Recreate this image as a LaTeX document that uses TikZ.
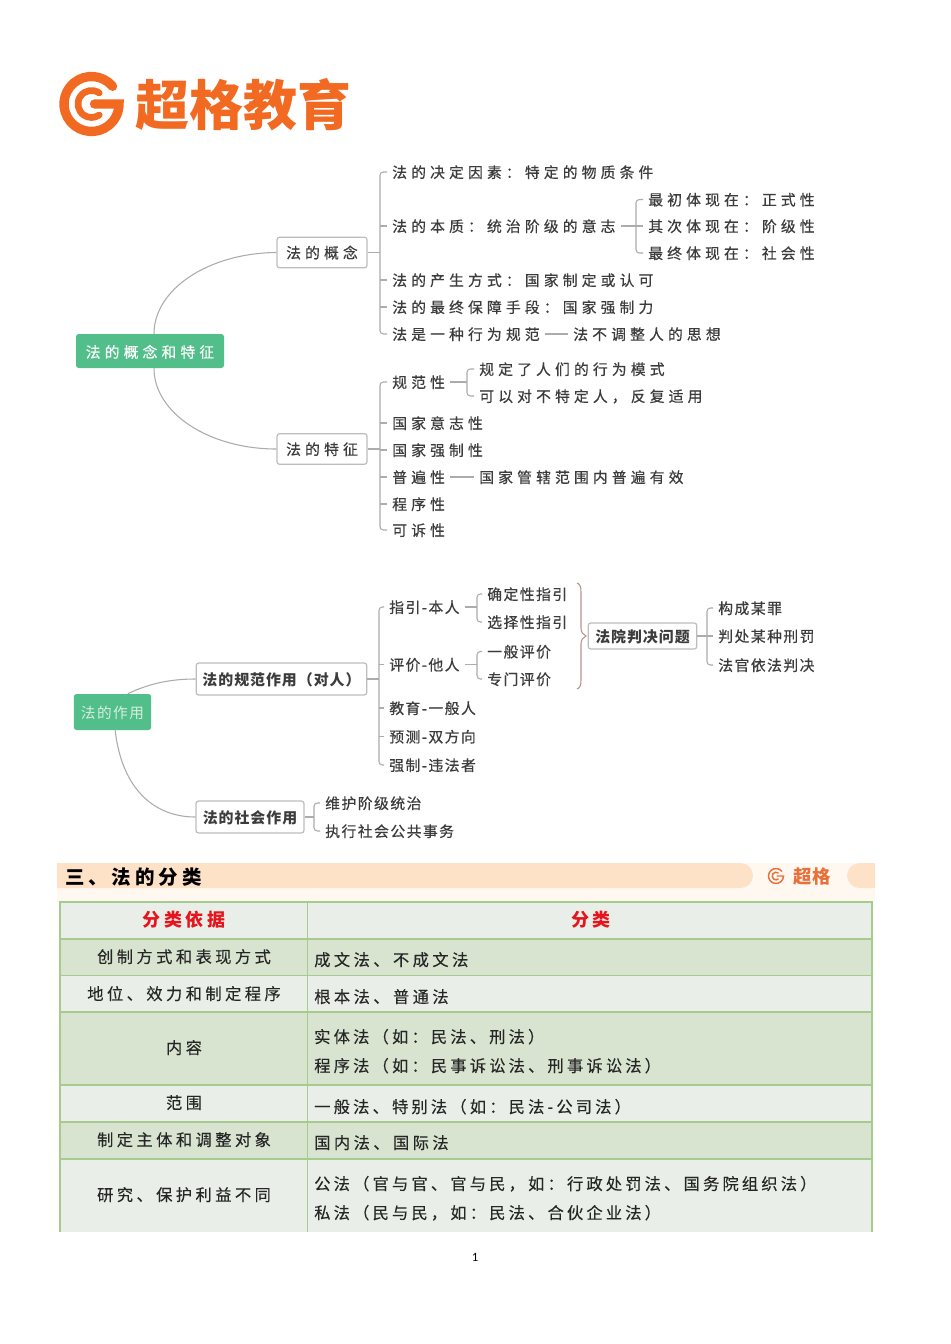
\documentclass[tikz,border=0pt]{standalone}
\usepackage{fontspec}
\setmainfont{Carlito}
\newfontfamily\fTreeA[LetterSpace=28,FakeBold=0.5]{Noto Sans CJK SC}
\newfontfamily\fTreeB[LetterSpace=10,FakeBold=0.5]{Noto Sans CJK SC}
\newfontfamily\fBox[LetterSpace=6.5]{Noto Sans CJK SC}
\newfontfamily\fRoot[LetterSpace=10]{Noto Sans CJK SC}
\newfontfamily\fTab[LetterSpace=21,FakeBold=0.25]{Noto Sans CJK SC}
\newfontfamily\fTabLong[LetterSpace=19.5,FakeBold=0.25]{Noto Sans CJK SC}
\newfontfamily\fHead[LetterSpace=20]{Noto Sans CJK SC}
\newfontfamily\fPlain{Noto Sans CJK SC}
\newcommand\fwc{\char"FF1A\relax}
\newcommand\fwd{\char"FF0C\relax}
\newcommand\fwl{\char"FF08\relax}
\newcommand\fwr{\char"FF09\relax}
\definecolor{treetxt}{HTML}{3C3C3C}
\definecolor{tabtxt}{HTML}{262626}
\definecolor{linegray}{HTML}{ACACAC}
\definecolor{boxline}{HTML}{BDBDBD}
\definecolor{rootgreen}{HTML}{52BE8A}
\definecolor{orange}{HTML}{F26A21}
\definecolor{peach}{HTML}{FDE2C8}
\definecolor{lightpeach}{HTML}{FFF8F1}
\definecolor{rowA}{HTML}{E9EFE8}
\definecolor{rowB}{HTML}{D8E4D0}
\definecolor{tabline}{HTML}{A6CC8D}
\definecolor{bracecol}{HTML}{B9918F}
\tikzset{
  x=0.75pt,y=-0.75pt,
  ta/.style={anchor=west,inner xsep=3.75pt,inner ysep=0pt,text height=.94em,text depth=.06em,text=treetxt,font=\fontsize{11.1pt}{13pt}\selectfont\fTreeA},
  tb/.style={anchor=west,inner xsep=3.75pt,inner ysep=0pt,text height=.94em,text depth=.06em,text=treetxt,font=\fontsize{11.1pt}{13pt}\selectfont\fTreeB},
  concept/.style={draw=boxline,line width=0.9pt,fill=white,rounded corners=2pt,inner sep=0pt,minimum height=23pt,minimum width=67.5pt,text height=.94em,text depth=.06em,text=treetxt,font=\fontsize{11.1pt}{13pt}\selectfont\fTreeA},
  boldbox/.style={draw=boxline,line width=0.9pt,fill=white,rounded corners=2pt,inner sep=0pt,minimum height=24pt,text height=1em,text depth=0em,text=treetxt,font=\fontsize{11.2pt}{13pt}\selectfont\fBox\bfseries},
  rootbox/.style={fill=rootgreen,rounded corners=2pt,inner sep=0pt,text height=1em,text depth=0em},
  conn/.style={draw=linegray,line width=0.8pt},
  brk/.style={draw=linegray,line width=0.8pt,rounded corners=2.5pt},
  cell/.style={inner sep=0pt,text height=.94em,text depth=.06em,text=tabtxt,font=\fontsize{12.2pt}{14pt}\selectfont\fTab},
  cellL/.style={cell,anchor=west},
  cellLong/.style={cell,anchor=west,font=\fontsize{12.2pt}{14pt}\selectfont\fTabLong},
  headcell/.style={inner sep=0pt,text height=1em,text depth=0em,text={rgb,255:red,230;green,20;blue,28},font=\fontsize{13.5pt}{15pt}\selectfont\fHead\bfseries},
}
\begin{document}
\begin{tikzpicture}
\useasboundingbox (0,0) rectangle (950,1344);
\fill[white] (0,0) rectangle (950,1344);

% ---------- logo
\begin{scope}[shift={(91.5,104)},x=0.75pt,y=0.75pt,draw=orange,line cap=round]
  \draw[line width=7pt] (40:27.5) arc (40:360:27.5) -- (3,0);
  \draw[line width=5pt] (55:13.5) arc (55:305:13.5);
\end{scope}
\node[anchor=center,inner sep=0pt,text=orange,font=\fontsize{40.5pt}{44pt}\selectfont\fPlain\bfseries] (logotext) at (243,105) {超格教育};

% ---------- tree 1
\node[concept] (c1) at (322,252.5) {法的概念};
\node[concept] (c2) at (322,449) {法的特征};
\node[rootbox,minimum width=111pt,minimum height=25.5pt,text=white,font=\fontsize{11.1pt}{13pt}\selectfont\fTreeA] (r1) at (150,351) {法的概念和特征};

\draw[conn] ([xshift=3pt]r1.north) .. controls (154,289) and (209,253) .. (c1.west);
\draw[conn] ([xshift=3pt]r1.south) .. controls (154,413) and (209,449) .. (c2.west);

\node[ta] (a1) at (387,172) {法的决定因素\fwc 特定的物质条件};
\node[ta] (a2) at (387,226) {法的本质\fwc 统治阶级的意志};
\node[ta] (a3) at (387,280) {法的产生方式\fwc 国家制定或认可};
\node[ta] (a4) at (387,307) {法的最终保障手段\fwc 国家强制力};
\node[ta] (a5) at (387,334) {法是一种行为规范};
\node[ta] (a5b) at (568,334) {法不调整人的思想};
\node[ta] (a21) at (643,199.5) {最初体现在\fwc 正式性};
\node[ta] (a22) at (643,226) {其次体现在\fwc 阶级性};
\node[ta] (a23) at (643,253) {最终体现在\fwc 社会性};
\coordinate (bus1) at (380,252.5);
\coordinate (bus2) at (636,226);
\draw[brk] (a1.west) -| (bus1) |- (a5.west);
\draw[conn] (c1.east) -- (bus1);
\draw[conn] (a2.west) -- (a2.west -| bus1);
\draw[conn] (a3.west) -- (a3.west -| bus1);
\draw[conn] (a4.west) -- (a4.west -| bus1);
\draw[conn] (a5.east) -- (a5b.west);
\draw[brk] (a21.west) -| (bus2) |- (a23.west);
\draw[conn] (a2.east) -- (a22.west);

\node[ta] (b1) at (387,382) {规范性};
\node[ta] (b2) at (387,423) {国家意志性};
\node[ta] (b3) at (387,450) {国家强制性};
\node[ta] (b4) at (387,477) {普遍性};
\node[ta] (b5) at (387,504) {程序性};
\node[ta] (b6) at (387,530) {可诉性};
\node[ta] (b11) at (474,369) {规定了人们的行为模式};
\node[ta] (b12) at (474,396) {可以对不特定人\fwd 反复适用};
\node[ta] (b41) at (474,477) {国家管辖范围内普遍有效};
\coordinate (bus3) at (380,449);
\coordinate (bus4) at (467,382);
\draw[brk] (b1.west) -| (bus3) |- (b6.west);
\draw[conn] (c2.east) -- (bus3);
\draw[conn] (b2.west) -- (b2.west -| bus3);
\draw[conn] (b3.west) -- (b3.west -| bus3);
\draw[conn] (b4.west) -- (b4.west -| bus3);
\draw[conn] (b5.west) -- (b5.west -| bus3);
\draw[brk] (b11.west) -| (bus4) |- (b12.west);
\draw[conn] (b1.east) -- (bus4);
\draw[conn] (b4.east) -- (b41.west);

% ---------- tree 2
\node[rootbox,minimum width=58pt,minimum height=27pt,text={rgb,255:red,214;green,238;blue,224},font=\fontsize{11pt}{13pt}\selectfont\fRoot] (r2) at (112.5,712) {法的作用};
\node[boldbox,minimum width=128pt] (d1) at (281.5,679) {法的规范作用\fwl 对人\fwr};
\node[boldbox,minimum width=81pt] (d2) at (250,817) {法的社会作用};
\draw[conn] ([xshift=11.5pt]r2.north) .. controls (150,683) and (172,679) .. (d1.west);
\draw[conn] ([xshift=2pt]r2.south) .. controls (122,790) and (155,817) .. (d2.west);

\node[tb] (e1) at (384,607) {指引-本人};
\node[tb] (e2) at (384,664.5) {评价-他人};
\node[tb] (e3) at (384,708) {教育-一般人};
\node[tb] (e4) at (384,736.5) {预测-双方向};
\node[tb] (e5) at (384,765) {强制-违法者};
\coordinate (bus5) at (379,679);
\draw[brk] (e1.west) -| (bus5) |- (e5.west);
\draw[conn] (d1.east) -- (bus5);
\draw[conn] (e2.west) -- (e2.west -| bus5);
\draw[conn] (e3.west) -- (e3.west -| bus5);
\draw[conn] (e4.west) -- (e4.west -| bus5);

\node[tb] (f1) at (482,594) {确定性指引};
\node[tb] (f2) at (482,622) {选择性指引};
\node[tb] (f3) at (482,651.5) {一般评价};
\node[tb] (f4) at (482,679) {专门评价};
\coordinate (bus6) at (477,607);
\coordinate (bus7) at (477,664.5);
\draw[brk] (f1.west) -| (bus6) |- (f2.west);
\draw[brk] (f3.west) -| (bus7) |- (f4.west);
\draw[conn] (e1.east) -- (bus6);
\draw[conn] (e2.east) -- (bus7);

\draw[bracecol,line width=0.8pt] (577,583) .. controls (580,584) and (581,587) .. (581,592) -- (581,628) .. controls (581,632) and (583,635) .. (586,636) .. controls (583,637) and (581,640) .. (581,644) -- (581,680) .. controls (581,685) and (580,688) .. (577,689);

\node[boldbox,minimum width=81.5pt,minimum height=19.5pt] (g) at (642.5,636) {法院判决问题\hspace{4pt}};
\node[tb] (h1) at (713,608) {构成某罪};
\node[tb] (h2) at (713,636) {判处某种刑罚};
\node[tb] (h3) at (713,665) {法官依法判决};
\coordinate (bus8) at (707,636);
\draw[brk] (h1.west) -| (bus8) |- (h3.west);
\draw[conn] (g.east) -- (h2.west);

\node[tb] (k1) at (320,803) {维护阶级统治};
\node[tb] (k2) at (320,831) {执行社会公共事务};
\coordinate (bus9) at (314,817);
\draw[brk] (k1.west) -| (bus9) |- (k2.west);
\draw[conn] (d2.east) -- (bus9);

% ---------- section band
\fill[lightpeach] (57,863) rectangle (875,902);
\fill[peach] (57,863) -- (740.5,863) arc[start angle=-90,delta angle=180,radius=12.5] -- (57,888) -- cycle;
\fill[peach] (875,863) -- (859.5,863) arc[start angle=-90,delta angle=-180,radius=12.5] -- (875,888) -- cycle;
\begin{scope}[shift={(776,876)},x=0.75pt,y=0.75pt,draw={rgb,255:red,232;green,112;blue,58},line cap=round]
  \draw[line width=1.1pt] (40:7.5) arc (40:360:7.5) -- (1,0);
  \draw[line width=1.1pt] (55:3.8) arc (55:305:3.8);
\end{scope}
\node[inner sep=0pt,text={rgb,255:red,232;green,112;blue,58},font=\fontsize{13.8pt}{15pt}\selectfont\fPlain\bfseries] (brand) at (812,876) {超格};
\node[anchor=west,inner sep=0pt,text height=.94em,text depth=.06em,text=black,font=\fontsize{14.6pt}{16pt}\selectfont\fHead\bfseries] (sect) at (65,879) {三、法的分类};

% ---------- table
\fill[rowA] (60,902) rectangle (872,939);
\fill[rowB] (60,939) rectangle (872,975.7);
\fill[rowA] (60,975.7) rectangle (872,1012);
\fill[rowB] (60,1012) rectangle (872,1085);
\fill[rowA] (60,1085) rectangle (872,1122);
\fill[rowB] (60,1122) rectangle (872,1159);
\fill[rowA] (60,1159) rectangle (872,1232);
\begin{scope}[draw=tabline,line width=0.8pt]
  \draw (60,1232) -- (60,902) -- (872,902) -- (872,1232);
  \draw (307.5,902) -- (307.5,1232);
  \draw (60,939) -- (872,939);
  \draw (60,975.7) -- (872,975.7);
  \draw (60,1012) -- (872,1012);
  \draw (60,1085) -- (872,1085);
  \draw (60,1122) -- (872,1122);
  \draw (60,1159) -- (872,1159);
\end{scope}
\node[headcell] (t0a) at (184,920) {分类依据};
\node[headcell] (t0b) at (591,920) {分类};
\node[cell] (t1a) at (184,957) {创制方式和表现方式};
\node[cellL] (t1b) at (314,960) {成文法、不成文法};
\node[cell] (t2a) at (184,994) {地位、效力和制定程序};
\node[cellL] (t2b) at (314,997) {根本法、普通法};
\node[cell] (t3a) at (184,1048) {内容};
\node[cellLong] (t3b) at (314,1037) {实体法\fwl 如\fwc 民法、刑法\fwr};
\node[cellLong] (t3c) at (314,1066) {程序法\fwl 如\fwc 民事诉讼法、刑事诉讼法\fwr};
\node[cell] (t4a) at (184,1103) {范围};
\node[cellLong] (t4b) at (314,1107) {一般法、特别法\fwl 如\fwc 民法-公司法\fwr};
\node[cell] (t5a) at (184,1140) {制定主体和调整对象};
\node[cellL] (t5b) at (314,1143) {国内法、国际法};
\node[cell] (t6a) at (184,1195) {研究、保护利益不同};
\node[cellLong] (t6b) at (314,1184) {公法\fwl 官与官、官与民\fwd 如\fwc 行政处罚法、国务院组织法\fwr};
\node[cellLong] (t6c) at (314,1213) {私法\fwl 民与民\fwd 如\fwc 民法、合伙企业法\fwr};

\node[inner sep=0pt,text=black,font=\fontsize{9.5pt}{11pt}\selectfont] (pg) at (475,1257) {1};
\end{tikzpicture}
\end{document}
